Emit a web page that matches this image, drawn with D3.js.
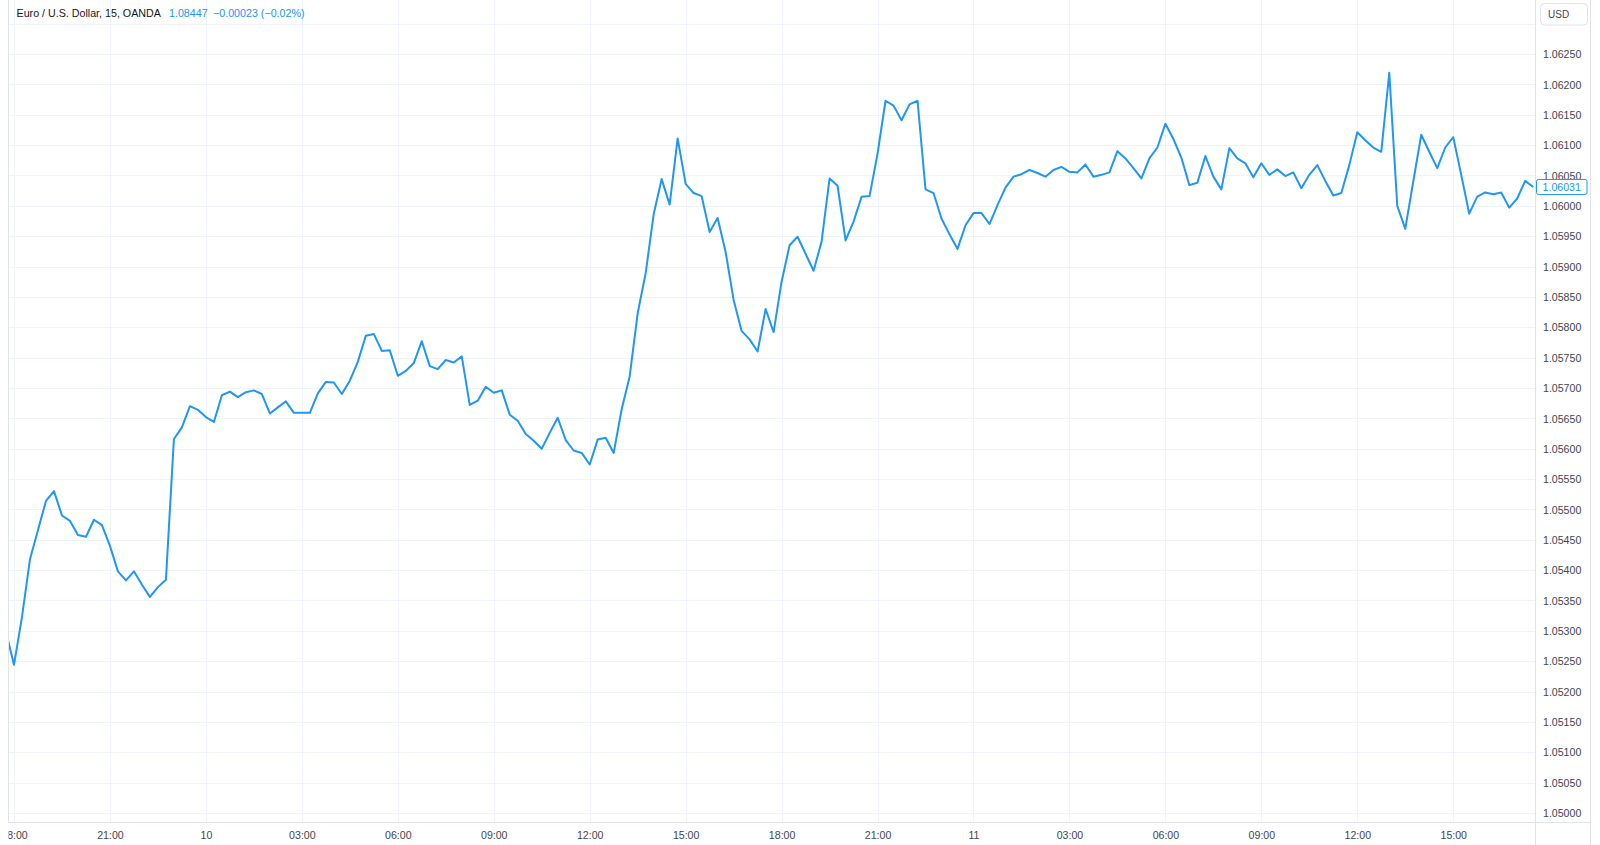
<!DOCTYPE html>
<html>
<head>
<meta charset="utf-8">
<script src="https://cdn.jsdelivr.net/npm/d3@7"></script>
<style>
  html, body { margin: 0; padding: 0; background: #ffffff; }
  svg { display: block; font-family: "Liberation Sans", Arial, sans-serif; }
</style>
</head>
<body>
<svg id="chart" width="1600" height="845"></svg>
<script>
// ---- data ----
const title = "Euro / U.S. Dollar, 15, OANDA";
const headerPrice = "1.08447";
const headerChange = "\u22120.00023 (\u22120.02%)";
const currency = "USD";
const lastPriceLabel = "1.06031";

// first bar: 9th 17:45, 15-minute bars
const firstBar = "2023-10-09T17:45:00Z";
const barMinutes = 15;

const closes = [
  1.05298, 1.05244, 1.05323, 1.05418, 1.05466, 1.05514, 1.05530, 1.05490, 1.05481, 1.05458,
  1.05455, 1.05483, 1.05474, 1.05440, 1.05398, 1.05383, 1.05398, 1.05376, 1.05356, 1.05372,
  1.05384, 1.05616, 1.05635, 1.05670, 1.05664, 1.05652, 1.05644, 1.05688, 1.05694, 1.05685,
  1.05693, 1.05696, 1.05690, 1.05658, 1.05668, 1.05678, 1.05659, 1.05659, 1.05659, 1.05691,
  1.05710, 1.05709, 1.05690, 1.05712, 1.05743, 1.05786, 1.05789, 1.05761, 1.05762, 1.05720,
  1.05728, 1.05741, 1.05777, 1.05736, 1.05731, 1.05746, 1.05742, 1.05752, 1.05672, 1.05679,
  1.05702, 1.05692, 1.05696, 1.05656, 1.05646, 1.05624, 1.05613, 1.05600, 1.05626, 1.05651,
  1.05614, 1.05597, 1.05593, 1.05574, 1.05615, 1.05618, 1.05593, 1.05665, 1.05719, 1.05823,
  1.05889, 1.05986, 1.06044, 1.06002, 1.06111, 1.06036, 1.06021, 1.06016, 1.05957, 1.05980,
  1.05924, 1.05845, 1.05794, 1.05780, 1.05760, 1.05830, 1.05792, 1.05875, 1.05935, 1.05949,
  1.05921, 1.05893, 1.05941, 1.06045, 1.06033, 1.05943, 1.05974, 1.06015, 1.06016, 1.06086,
  1.06173, 1.06165, 1.06141, 1.06167, 1.06173, 1.06027, 1.06021, 1.05979, 1.05953, 1.05929,
  1.05968, 1.05988, 1.05988, 1.05970, 1.06001, 1.06030, 1.06048, 1.06052, 1.06059, 1.06054,
  1.06048, 1.06059, 1.06064, 1.06056, 1.06055, 1.06068, 1.06048, 1.06051, 1.06055, 1.06090,
  1.06078, 1.06062, 1.06045, 1.06078, 1.06096, 1.06135, 1.06110, 1.06079, 1.06034, 1.06038,
  1.06082, 1.06048, 1.06027, 1.06095, 1.06078, 1.06070, 1.06047, 1.06070, 1.06051, 1.06060,
  1.06049, 1.06055, 1.06029, 1.06051, 1.06067, 1.06041, 1.06017, 1.06021, 1.06067, 1.06121,
  1.06108, 1.06096, 1.06089, 1.06219, 1.06000, 1.05962, 1.06040, 1.06117, 1.06089, 1.06062,
  1.06096, 1.06113, 1.06051, 1.05987, 1.06015, 1.06022, 1.06019, 1.06022, 1.05997, 1.06012,
  1.06041, 1.06031
];

const xTickTimes = [
  "2023-10-09T18:00:00Z", "2023-10-09T21:00:00Z", "2023-10-10T00:00:00Z", "2023-10-10T03:00:00Z",
  "2023-10-10T06:00:00Z", "2023-10-10T09:00:00Z", "2023-10-10T12:00:00Z", "2023-10-10T15:00:00Z",
  "2023-10-10T18:00:00Z", "2023-10-10T21:00:00Z", "2023-10-11T00:00:00Z", "2023-10-11T03:00:00Z",
  "2023-10-11T06:00:00Z", "2023-10-11T09:00:00Z", "2023-10-11T12:00:00Z", "2023-10-11T15:00:00Z"
];
const xTickLabels = ["18:00", "21:00", "10", "03:00", "06:00", "09:00", "12:00", "15:00",
                     "18:00", "21:00", "11", "03:00", "06:00", "09:00", "12:00", "15:00"];

const yTickValues = [1.05000, 1.05050, 1.05100, 1.05150, 1.05200, 1.05250, 1.05300, 1.05350,
  1.05400, 1.05450, 1.05500, 1.05550, 1.05600, 1.05650, 1.05700, 1.05750, 1.05800, 1.05850,
  1.05900, 1.05950, 1.06000, 1.06050, 1.06100, 1.06150, 1.06200, 1.06250];
const yGridValues = yTickValues.concat([1.06300]);

// ---- layout ----
const W = 1600, H = 845;
const paneLeft = 8.5, paneRight = 1535.5, paneBottom = 822.5, axisRight = 1590.5;
const lineColor = "#2196f3";
const gridColor = "#f0f3fa";
const borderColor = "#e0e3eb";
const textColor = "#434651";

const svg = d3.select("#chart");
const t0 = new Date(firstBar);
const times = closes.map((_, i) => new Date(t0.getTime() + i * barMinutes * 60000));

const x = d3.scaleUtc()
  .domain([times[0], times[times.length - 1]])
  .range([6.0, 1533.2]);
const y = d3.scaleLinear()
  .domain([1.05, 1.0625])
  .range([813, 54]);

svg.append("rect").attr("width", W).attr("height", H).attr("fill", "#ffffff");

const defs = svg.append("defs");
defs.append("clipPath").attr("id", "pane")
  .append("rect").attr("x", paneLeft).attr("y", 0)
  .attr("width", paneRight - paneLeft).attr("height", paneBottom);
defs.append("clipPath").attr("id", "timeaxis")
  .append("rect").attr("x", paneLeft).attr("y", paneBottom)
  .attr("width", paneRight - paneLeft).attr("height", H - paneBottom);

// grid
const grid = svg.append("g").attr("clip-path", "url(#pane)");
grid.selectAll("line.h").data(yGridValues).join("line")
  .attr("class", "h")
  .attr("x1", paneLeft).attr("x2", paneRight)
  .attr("y1", d => Math.round(y(d)) + 0.5).attr("y2", d => Math.round(y(d)) + 0.5)
  .attr("stroke", gridColor).attr("stroke-width", 1);
grid.selectAll("line.v").data(xTickTimes).join("line")
  .attr("class", "v")
  .attr("x1", d => Math.round(x(new Date(d))) + 0.5).attr("x2", d => Math.round(x(new Date(d))) + 0.5)
  .attr("y1", 0).attr("y2", paneBottom)
  .attr("stroke", gridColor).attr("stroke-width", 1);

// series line
const line = d3.line()
  .x((d, i) => x(times[i]))
  .y(d => y(d));
svg.append("g").attr("clip-path", "url(#pane)")
  .append("path")
  .datum(closes)
  .attr("d", line)
  .attr("fill", "none")
  .attr("stroke", lineColor)
  .attr("stroke-width", 2)
  .attr("stroke-linejoin", "round");

// borders
svg.append("line").attr("x1", paneLeft).attr("x2", paneLeft).attr("y1", 0).attr("y2", paneBottom)
  .attr("stroke", borderColor);
svg.append("line").attr("x1", paneLeft).attr("x2", axisRight).attr("y1", paneBottom).attr("y2", paneBottom)
  .attr("stroke", borderColor);
svg.append("line").attr("x1", paneRight).attr("x2", paneRight).attr("y1", 0).attr("y2", H)
  .attr("stroke", borderColor);
svg.append("line").attr("x1", axisRight).attr("x2", axisRight).attr("y1", 0).attr("y2", H)
  .attr("stroke", borderColor);

// price axis (right)
const yAxis = d3.axisRight(y).tickValues(yTickValues).tickSize(0).tickPadding(0)
  .tickFormat(d3.format(".5f"));
const yAxisG = svg.append("g").attr("transform", `translate(${paneRight + 7.5},0)`).call(yAxis);
yAxisG.select(".domain").remove();
yAxisG.selectAll("text")
  .attr("fill", textColor)
  .style("font-size", "10.6px")
  .attr("dy", "0.35em");

// time axis (bottom)
const xAxis = d3.axisBottom(x)
  .tickValues(xTickTimes.map(d => new Date(d)))
  .tickSize(0).tickPadding(0)
  .tickFormat((d, i) => xTickLabels[i]);
const xAxisG = svg.append("g").attr("clip-path", "url(#timeaxis)")
  .append("g").attr("transform", `translate(0,${paneBottom + 9})`).call(xAxis);
xAxisG.select(".domain").remove();
xAxisG.selectAll("text")
  .attr("fill", textColor)
  .style("font-size", "10.6px");

// currency box
svg.append("rect").attr("x", 1540.5).attr("y", 3.5).attr("width", 47).attr("height", 21.5)
  .attr("rx", 4).attr("fill", "#ffffff").attr("stroke", borderColor);
svg.append("text").attr("x", 1548).attr("y", 14.5).attr("dy", "0.35em")
  .attr("fill", textColor).style("font-size", "10px").text(currency);

// last price label
const lastY = y(+lastPriceLabel);
svg.append("rect").attr("x", 1536.5).attr("y", lastY - 7.5).attr("width", 50.5).attr("height", 15)
  .attr("rx", 2).attr("fill", "#ffffff").attr("stroke", lineColor);
svg.append("text").attr("x", 1561.75).attr("y", lastY).attr("dy", "0.35em")
  .attr("text-anchor", "middle").attr("fill", lineColor).style("font-size", "10.6px")
  .text(lastPriceLabel);

// header legend
const header = svg.append("text").attr("x", 16.5).attr("y", 13).attr("dy", "0.35em")
  .style("font-size", "10.7px");
header.append("tspan").attr("fill", "#131722").text(title);
header.append("tspan").attr("x", 169).attr("fill", lineColor).text(headerPrice);
header.append("tspan").attr("x", 213).attr("fill", lineColor).text(headerChange);
</script>
</body>
</html>
